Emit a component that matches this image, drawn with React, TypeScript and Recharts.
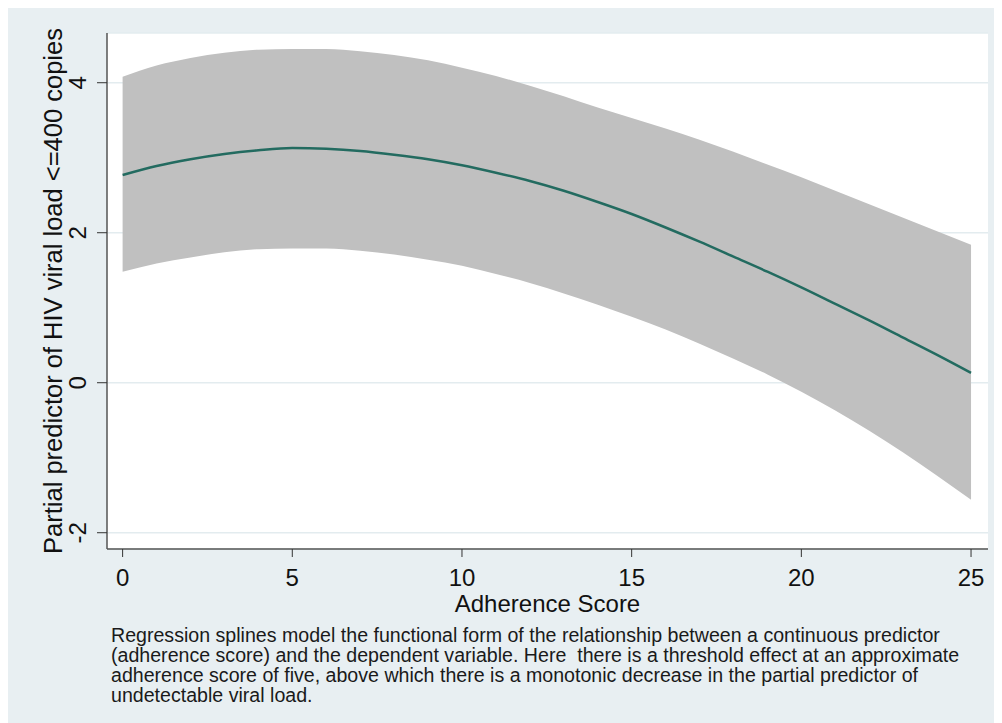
import { ComposedChart, Area, Line, XAxis, YAxis, CartesianGrid, Label } from 'recharts';

const scores = [0, 1, 2, 3, 4, 5, 6, 7, 8, 9, 10, 11, 12, 13, 14, 15, 16, 17, 18, 19, 20, 21, 22, 23, 24, 25];
const fitValues = [2.77, 2.89, 2.98, 3.05, 3.1, 3.13, 3.12, 3.09, 3.04, 2.98, 2.9, 2.8, 2.69, 2.56, 2.41, 2.25, 2.07, 1.88, 1.68, 1.48, 1.27, 1.05, 0.83, 0.6, 0.37, 0.13];
const upperValues = [4.08, 4.23, 4.33, 4.4, 4.44, 4.45, 4.45, 4.42, 4.37, 4.3, 4.2, 4.09, 3.96, 3.82, 3.67, 3.53, 3.39, 3.24, 3.08, 2.91, 2.74, 2.56, 2.38, 2.2, 2.02, 1.84];
const lowerValues = [1.48, 1.59, 1.67, 1.74, 1.78, 1.79, 1.79, 1.76, 1.71, 1.64, 1.56, 1.45, 1.33, 1.19, 1.04, 0.88, 0.71, 0.52, 0.32, 0.11, -0.12, -0.37, -0.64, -0.93, -1.24, -1.56];
const xTicks = [0, 5, 10, 15, 20, 25];
const yTicks = [-2, 0, 2, 4];

const captionLines = [
  'Regression splines model the functional form of the relationship between a continuous predictor',
  '(adherence score) and the dependent variable. Here  there is a threshold effect at an approximate',
  'adherence score of five, above which there is a monotonic decrease in the partial predictor of',
  'undetectable viral load.',
];

const data = scores.map((x, i) => ({
  x,
  band: [lowerValues[i], upperValues[i]],
  fit: fitValues[i],
}));

const FONT = '"Liberation Sans", Arial, sans-serif';

function YTick(props: any) {
  const { x, y, payload } = props;
  const tx = x - 9;
  return (
    <text x={tx} y={y} transform={`rotate(-90 ${tx} ${y})`} textAnchor="middle" fontSize={24} fill="#111" fontFamily={FONT}>
      {payload.value}
    </text>
  );
}

export default function App() {
  return (
    <div style={{ position: 'relative', width: 992, height: 715, background: '#e8eff2' }}>
      <ComposedChart width={992} height={620} data={data} margin={{ top: 25, right: 12, left: 0, bottom: 20 }}>
        <CartesianGrid horizontal vertical={false} stroke="#e3ecef" strokeWidth={1.5} fill="#ffffff" fillOpacity={1} />
        <XAxis
          type="number"
          dataKey="x"
          domain={[-0.46, 25.5]}
          ticks={xTicks}
          allowDataOverflow
          height={59}
          tickSize={8}
          tickMargin={12}
          axisLine={{ stroke: '#555', strokeWidth: 1.5 }}
          tickLine={{ stroke: '#333' }}
          tick={{ fontSize: 24, fill: '#111', fontFamily: FONT }}
        >
          <Label
            content={({ viewBox }: any) => (
              <text x={viewBox.x + viewBox.width / 2} y={viewBox.y + 63} textAnchor="middle" fontSize={24} fill="#111" fontFamily={FONT}>
                Adherence Score
              </text>
            )}
          />
        </XAxis>
        <YAxis
          type="number"
          domain={[-2.217, 4.663]}
          ticks={yTicks}
          allowDataOverflow
          width={99}
          tickSize={10}
          axisLine={{ stroke: '#555', strokeWidth: 1.5 }}
          tickLine={{ stroke: '#333' }}
          tick={<YTick />}
        >
          <Label
            content={({ viewBox }: any) => {
              const lx = 54;
              const ly = viewBox.y + viewBox.height / 2;
              return (
                <text x={lx} y={ly} transform={`rotate(-90 ${lx} ${ly})`} textAnchor="middle" fontSize={25.5} fill="#111" fontFamily={FONT}>
                  Partial predictor of HIV viral load &lt;=400 copies
                </text>
              );
            }}
          />
        </YAxis>
        <Area type="monotone" dataKey="band" stroke="none" fill="#c0c0c0" fillOpacity={1} isAnimationActive={false} />
        <Line type="monotone" dataKey="fit" stroke="#236b60" strokeWidth={2.5} dot={false} isAnimationActive={false} />
      </ComposedChart>
      <div
        style={{
          position: 'absolute',
          left: 103,
          top: 617,
          fontFamily: FONT,
          fontSize: 19.6,
          lineHeight: '20px',
          color: '#1a1a1a',
          whiteSpace: 'pre',
        }}
      >
        {captionLines.map((l, i) => (
          <div key={i}>{l}</div>
        ))}
      </div>
    </div>
  );
}
